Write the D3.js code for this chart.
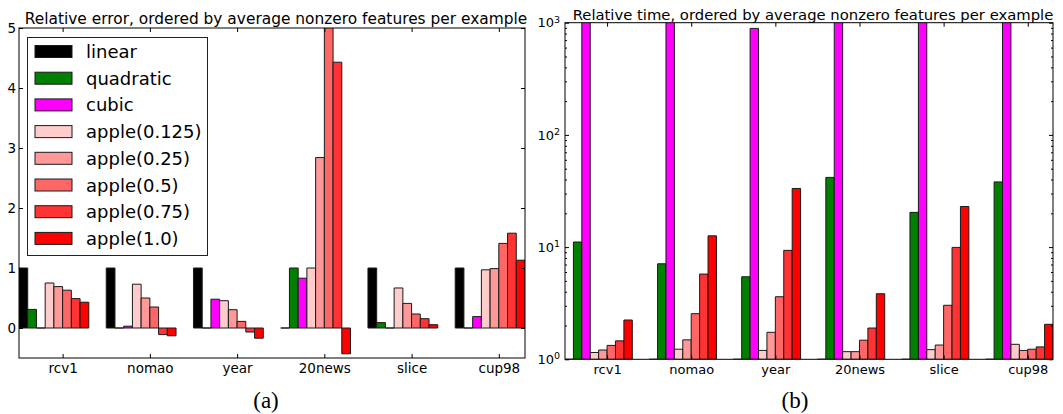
<!DOCTYPE html>
<html>
<head>
<meta charset="utf-8">
<script src="https://cdn.jsdelivr.net/npm/d3@7/dist/d3.min.js"></script>
<style>
  html, body { margin: 0; padding: 0; background: #fff; }
  svg { display: block; }
</style>
</head>
<body>
<svg id="chart" width="1063" height="414"></svg>
<script>
// Datasets (x groups) and methods (bars within each group)
const categories = ["rcv1", "nomao", "year", "20news", "slice", "cup98"];
const methods = ["linear", "quadratic", "cubic", "apple(0.125)", "apple(0.25)", "apple(0.5)", "apple(0.75)", "apple(1.0)"];
const methodColors = ["#000000", "#007f00", "#ff00ff", "#ffcccc", "#ff9999", "#ff6666", "#ff3333", "#ff0000"];

// Relative error per dataset
const linearErr     = [1.00, 1.00, 1.00, 0.00, 1.00, 1.00];
const quadraticErr  = [0.31, 0.00, 0.00, 1.00, 0.09, 0.00];
const cubicErr      = [0.00, 0.03, 0.48, 0.83, 0.00, 0.19];
const apple0125Err  = [0.75, 0.73, 0.455, 1.00, 0.667, 0.97];
const apple025Err   = [0.69, 0.50, 0.305, 2.84, 0.41, 0.99];
const apple05Err    = [0.63, 0.35, 0.11, 5.30, 0.233, 1.41];
const apple075Err   = [0.49, -0.11, -0.067, 4.43, 0.155, 1.58];
const apple1Err     = [0.43, -0.13, -0.17, -0.43, 0.055, 1.13];

// Relative time per dataset
const linearTime    = [1, 1, 1, 1, 1, 1];
const quadraticTime = [11.1, 7.1, 5.44, 41.8, 20.4, 38.1];
const cubicTime     = [1500, 1500, 890, 1500, 1500, 1500];
const apple0125Time = [1.15, 1.23, 1.20, 1.17, 1.22, 1.36];
const apple025Time  = [1.21, 1.49, 1.74, 1.17, 1.34, 1.20];
const apple05Time   = [1.33, 2.55, 3.61, 1.48, 3.03, 1.23];
const apple075Time  = [1.46, 5.75, 9.35, 1.90, 9.94, 1.29];
const apple1Time    = [2.24, 12.6, 33.3, 3.84, 23.0, 2.05];

const errSeries  = [linearErr, quadraticErr, cubicErr, apple0125Err, apple025Err, apple05Err, apple075Err, apple1Err];
const timeSeries = [linearTime, quadraticTime, cubicTime, apple0125Time, apple025Time, apple05Time, apple075Time, apple1Time];

const errTicks = [0, 1, 2, 3, 4, 5];
const timeTicks = [1, 10, 100, 1000];

const barWidth = 0.1;
const groupSpan = categories.length - 1 + methods.length * barWidth;

const svg = d3.select("#chart");
const FONT = "'DejaVu Sans', sans-serif";

function panel(opts) {
  const { x0, x1, y0, y1, yScale, series, base, title, titleSize, titleY, labelSize, clipId } = opts;
  const x = d3.scaleLinear().domain([0, groupSpan]).range([x0, x1]);
  const y = yScale;
  const g = svg.append("g");

  g.append("clipPath").attr("id", clipId)
    .append("rect").attr("x", x0).attr("y", y0).attr("width", x1 - x0).attr("height", y1 - y0);

  // bars
  const bars = [];
  series.forEach((vals, j) => {
    vals.forEach((v, i) => bars.push({ i, j, v }));
  });
  g.append("g").attr("clip-path", `url(#${clipId})`)
    .selectAll("path").data(bars).join("path")
    .attr("d", d => {
      const xa = x(d.i + d.j * barWidth), xb = x(d.i + (d.j + 1) * barWidth);
      const ya = y(Math.max(d.v, base)), yb = y(Math.min(d.v, base));
      return `M${xa},${ya}H${xb}V${yb}H${xa}Z`;
    })
    .attr("fill", d => methodColors[d.j])
    .attr("stroke", "#1a1a1a")
    .attr("stroke-width", 1);

  const tickPos = categories.map((c, i) => i + 0.5);

  // x axes (bottom with labels, top ticks only), ticks pointing inward
  const xb = g.append("g").attr("transform", `translate(0,${y1})`)
    .call(d3.axisBottom(x).tickValues(tickPos).tickFormat((d, k) => categories[k])
      .tickSizeInner(-4).tickSizeOuter(0).tickPadding(5));
  const xt = g.append("g").attr("transform", `translate(0,${y0})`)
    .call(d3.axisTop(x).tickValues(tickPos).tickFormat("").tickSizeInner(-4).tickSizeOuter(0));

  [xb, xt].forEach(a => {
    a.select(".domain").remove();
    a.selectAll("line").attr("stroke", "#000");
  });
  xb.selectAll("text").attr("font-family", FONT).attr("font-size", labelSize).attr("fill", "#000");

  // frame
  g.append("rect").attr("x", x0).attr("y", y0).attr("width", x1 - x0).attr("height", y1 - y0)
    .attr("fill", "none").attr("stroke", "#000").attr("stroke-width", 1);

  // title
  g.append("text").attr("x", (x0 + x1) / 2 + 4).attr("y", titleY)
    .attr("text-anchor", "middle").attr("font-family", FONT).attr("font-size", titleSize)
    .attr("fill", "#000").text(title);

  return { g, x, y };
}

// (a) relative error
const yErr = d3.scaleLinear().domain([-0.5, 5]).range([358, 28]);
const pa = panel({
  x0: 19, x1: 525, y0: 28, y1: 358, yScale: yErr, series: errSeries, base: 0,
  title: "Relative error, ordered by average nonzero features per example",
  titleSize: 15.4, titleY: 24, labelSize: 13.5, clipId: "clipA"
});
{
  const yl = pa.g.append("g").attr("transform", "translate(19,0)")
    .call(d3.axisLeft(yErr).tickValues(errTicks).tickFormat(d3.format("d"))
      .tickSizeInner(-4).tickSizeOuter(0).tickPadding(3));
  const yr = pa.g.append("g").attr("transform", "translate(525,0)")
    .call(d3.axisRight(yErr).tickValues(errTicks).tickFormat("").tickSizeInner(-4).tickSizeOuter(0));
  [yl, yr].forEach(a => { a.select(".domain").remove(); a.selectAll("line").attr("stroke", "#000"); });
  yl.selectAll("text").attr("font-family", FONT).attr("font-size", 13.5).attr("fill", "#000");
}

// legend
{
  const lg = pa.g.append("g");
  lg.append("rect").attr("x", 27.5).attr("y", 37.5).attr("width", 180).attr("height", 218)
    .attr("fill", "#fff").attr("stroke", "#222").attr("stroke-width", 1);
  const row = lg.selectAll("g.row").data(methods).join("g")
    .attr("transform", (d, k) => `translate(0,${51.5 + k * 26.7})`);
  row.append("rect").attr("x", 35).attr("y", -6).attr("width", 37).attr("height", 12)
    .attr("fill", (d, k) => methodColors[k]).attr("stroke", "#1a1a1a").attr("stroke-width", 1);
  row.append("text").attr("x", 86).attr("y", 6.5)
    .attr("font-family", FONT).attr("font-size", 18).attr("fill", "#000").text(d => d);
}

// (b) relative time, log scale
const yTime = d3.scaleLog().domain([1, 1000]).range([359.3, 22.7]);
const pb = panel({
  x0: 565, x1: 1053, y0: 22.7, y1: 359.3, yScale: yTime, series: timeSeries, base: 1,
  title: "Relative time, ordered by average nonzero features per example",
  titleSize: 14.8, titleY: 20, labelSize: 13, clipId: "clipB"
});
{
  const minor = [];
  for (let d = 1; d < 1000; d *= 10) for (let m = 2; m <= 9; m++) minor.push(d * m);
  const yl = pb.g.append("g").attr("transform", "translate(565,0)")
    .call(d3.axisLeft(yTime).tickValues(timeTicks).tickFormat("")
      .tickSizeInner(-4).tickSizeOuter(0).tickPadding(4));
  const yr = pb.g.append("g").attr("transform", "translate(1053,0)")
    .call(d3.axisRight(yTime).tickValues(timeTicks).tickFormat("").tickSizeInner(-4).tickSizeOuter(0));
  const ylm = pb.g.append("g").attr("transform", "translate(565,0)")
    .call(d3.axisLeft(yTime).tickValues(minor).tickFormat("").tickSizeInner(-2).tickSizeOuter(0));
  const yrm = pb.g.append("g").attr("transform", "translate(1053,0)")
    .call(d3.axisRight(yTime).tickValues(minor).tickFormat("").tickSizeInner(-2).tickSizeOuter(0));
  [yl, yr, ylm, yrm].forEach(a => { a.select(".domain").remove(); a.selectAll("line").attr("stroke", "#000"); });

  // power-of-ten labels with superscript exponents
  yl.selectAll(".tick").each(function(d) {
    const t = d3.select(this).select("text");
    t.text(null).attr("x", -5).attr("dy", "0.32em")
      .attr("font-family", FONT).attr("font-size", 13).attr("fill", "#000");
    t.append("tspan").text("10");
    t.append("tspan").attr("dy", "-0.5em").attr("font-size", 9.5).text(Math.round(Math.log10(d)));
  });
}

// panel captions
svg.append("text").attr("x", 266).attr("y", 408).attr("text-anchor", "middle")
  .attr("font-family", "'Liberation Serif', 'Times New Roman', serif").attr("font-size", 23)
  .attr("fill", "#000").text("(a)");
svg.append("text").attr("x", 795).attr("y", 408).attr("text-anchor", "middle")
  .attr("font-family", "'Liberation Serif', 'Times New Roman', serif").attr("font-size", 23)
  .attr("fill", "#000").text("(b)");
</script>
</body>
</html>
